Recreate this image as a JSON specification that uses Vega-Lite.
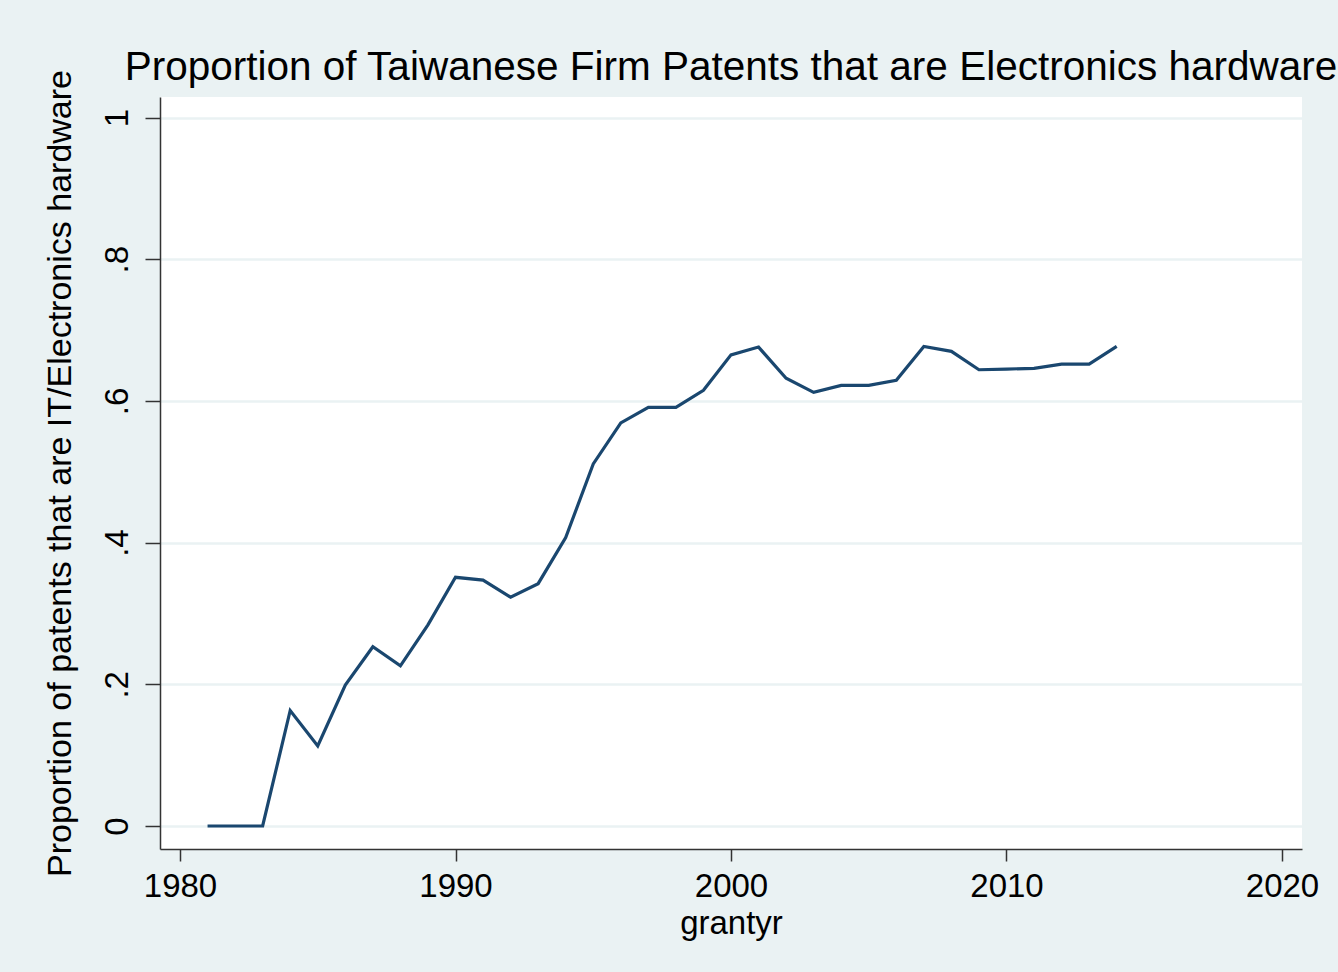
{
  "$schema": "https://vega.github.io/schema/vega-lite/v6.json",
  "width": 1142,
  "height": 752,
  "autosize": {"type": "none"},
  "padding": {"left": 160, "top": 97, "right": 36, "bottom": 123},
  "background": "#EAF2F3",
  "view": {"fill": "white", "stroke": null},
  "title": {
    "text": "Proportion of Taiwanese Firm Patents that are Electronics hardware",
    "font": "Liberation Sans",
    "fontSize": 40.5,
    "fontWeight": "normal",
    "color": "black",
    "anchor": "middle",
    "baseline": "alphabetic",
    "offset": 15,
    "dy": 66
  },
  "data": {
    "values": [
      {"grantyr": 1981, "prop": 0},
      {"grantyr": 1982, "prop": 0},
      {"grantyr": 1983, "prop": 0},
      {"grantyr": 1984, "prop": 0.163},
      {"grantyr": 1985, "prop": 0.113},
      {"grantyr": 1986, "prop": 0.199},
      {"grantyr": 1987, "prop": 0.253},
      {"grantyr": 1988, "prop": 0.226},
      {"grantyr": 1989, "prop": 0.284},
      {"grantyr": 1990, "prop": 0.351},
      {"grantyr": 1991, "prop": 0.347},
      {"grantyr": 1992, "prop": 0.323},
      {"grantyr": 1993, "prop": 0.342},
      {"grantyr": 1994, "prop": 0.407},
      {"grantyr": 1995, "prop": 0.511},
      {"grantyr": 1996, "prop": 0.569},
      {"grantyr": 1997, "prop": 0.591},
      {"grantyr": 1998, "prop": 0.591},
      {"grantyr": 1999, "prop": 0.615},
      {"grantyr": 2000, "prop": 0.665},
      {"grantyr": 2001, "prop": 0.676},
      {"grantyr": 2002, "prop": 0.632},
      {"grantyr": 2003, "prop": 0.612},
      {"grantyr": 2004, "prop": 0.622},
      {"grantyr": 2005, "prop": 0.622},
      {"grantyr": 2006, "prop": 0.629},
      {"grantyr": 2007, "prop": 0.677},
      {"grantyr": 2008, "prop": 0.670},
      {"grantyr": 2009, "prop": 0.644},
      {"grantyr": 2010, "prop": 0.645},
      {"grantyr": 2011, "prop": 0.646},
      {"grantyr": 2012, "prop": 0.652},
      {"grantyr": 2013, "prop": 0.652},
      {"grantyr": 2014, "prop": 0.677}
    ]
  },
  "mark": {"type": "line", "color": "#1a476f", "strokeWidth": 3.2, "strokeJoin": "miter"},
  "encoding": {
    "x": {
      "field": "grantyr",
      "type": "quantitative",
      "scale": {"domain": [1979.274, 2020.726], "nice": false, "zero": false},
      "axis": {
        "title": "grantyr",
        "values": [1980, 1990, 2000, 2010, 2020],
        "format": "d",
        "grid": false,
        "domainColor": "#333333",
        "domainWidth": 1.5,
        "tickColor": "#333333",
        "tickWidth": 1.5,
        "tickSize": 12,
        "labelPadding": 9,
        "labelFont": "Liberation Sans",
        "labelFontSize": 33,
        "labelColor": "black",
        "titleFont": "Liberation Sans",
        "titleFontSize": 33,
        "titleFontWeight": "normal",
        "titleColor": "black",
        "titlePadding": 4
      }
    },
    "y": {
      "field": "prop",
      "type": "quantitative",
      "scale": {"domain": [-0.0325, 1.029], "nice": false, "zero": false},
      "axis": {
        "title": "Proportion of patents that are IT/Electronics hardware",
        "values": [0, 0.2, 0.4, 0.6, 0.8, 1],
        "labelExpr": "datum.value == 0 ? '0' : datum.value == 1 ? '1' : replace(format(datum.value, '.1f'), '0.', '.')",
        "grid": true,
        "gridColor": "#EAF2F3",
        "gridWidth": 2.5,
        "domainColor": "#333333",
        "domainWidth": 1.5,
        "tickColor": "#333333",
        "tickWidth": 1.5,
        "tickSize": 15,
        "labelAngle": 270,
        "labelAlign": "center",
        "labelBaseline": "bottom",
        "labelPadding": 11,
        "labelFont": "Liberation Sans",
        "labelFontSize": 33,
        "labelColor": "black",
        "titleFont": "Liberation Sans",
        "titleFontSize": 34,
        "titleFontWeight": "normal",
        "titleColor": "black",
        "titlePadding": 24
      }
    }
  }
}
